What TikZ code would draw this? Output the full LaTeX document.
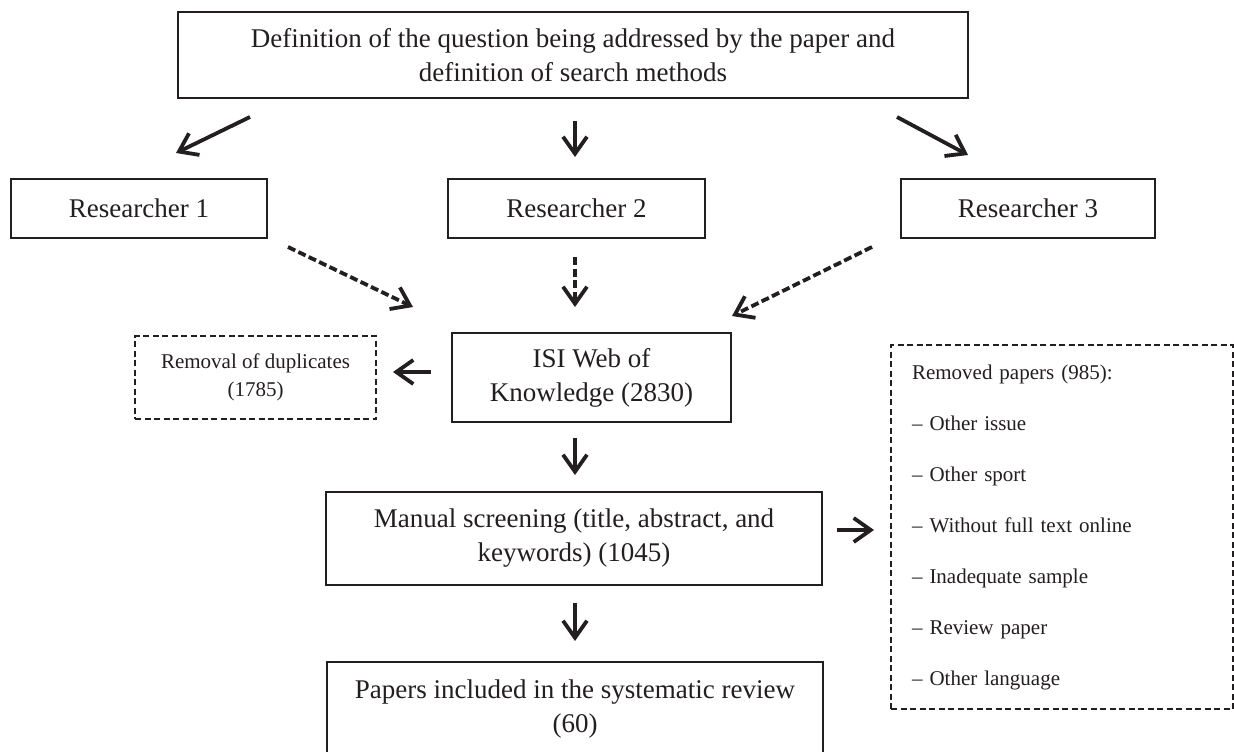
\documentclass[tikz,border=0pt]{standalone}
\usepackage{fontspec}
\setmainfont{Liberation Serif}
\usetikzlibrary{arrows.meta}
\definecolor{ink}{RGB}{35,31,32}
\begin{document}
\begin{tikzpicture}[x=1pt,y=-1pt,
  box/.style={draw=ink, line width=2.5pt, text=ink, align=center, inner sep=0pt,
              font=\fontsize{27}{34}\selectfont},
  dbox/.style={draw=ink, line width=2pt, dash pattern=on 6pt off 3.5pt, text=ink, inner sep=0pt},
  arr/.style={draw=ink, line width=3.8pt, -{Straight Barb[length=17pt,width=24pt]}},
  darr/.style={arr, dash pattern=on 8pt off 3.5pt},
]
\clip (0,0) rectangle (1234,752);
\fill[white] (0,0) rectangle (1234,752);

% boxes
\node[box, minimum width=790, minimum height=86] (def) at (573,55)
  {Definition of the question being addressed by the paper and\\definition of search methods};
\node[box, minimum width=256, minimum height=59] (r1) at (139,208.5) {Researcher 1};
\node[box, minimum width=257, minimum height=59] (r2) at (576.5,208.5) {Researcher 2};
\node[box, minimum width=254, minimum height=59] (r3) at (1028,208.5) {Researcher 3};
\node[box, minimum width=279, minimum height=89] (isi) at (591.5,377.5)
  {ISI Web of\\Knowledge (2830)};
\node[dbox, minimum width=241, minimum height=83, align=center,
      font=\fontsize{21}{28}\selectfont] (dup) at (255.5,377.5)
  {Removal of duplicates\\(1785)};
\node[box, minimum width=496, minimum height=93] (man) at (574,538.5)
  {Manual screening (title, abstract, and\\keywords) (1045)};
\node[box, minimum width=496, minimum height=93] (pap) at (575,708.5)
  {Papers included in the systematic review\\(60)};
\node[dbox, minimum width=342, minimum height=364, align=left, text width=300,
      font=\fontsize{21}{51}\selectfont] (rem) at (1062,527)
  {Removed papers (985):\\
   -- Other issue\\
   -- Other sport\\
   -- Without full text online\\
   -- Inadequate sample\\
   -- Review paper\\
   -- Other language};

% arrow end points
\coordinate (a1s) at (250,117); \coordinate (a1e) at (176,153);
\coordinate (a2s) at (575,121); \coordinate (a2e) at (575,157);
\coordinate (a3s) at (897,117); \coordinate (a3e) at (968,155);
\coordinate (d1s) at (288,247); \coordinate (d1e) at (413,307);
\coordinate (d2s) at (575,257); \coordinate (d2e) at (575,307);
\coordinate (d3s) at (872,247); \coordinate (d3e) at (732,316);
\coordinate (e1s) at (431,372); \coordinate (e1e) at (393,372);
\coordinate (e2s) at (575,438); \coordinate (e2e) at (575,475);
\coordinate (e3s) at (575,603); \coordinate (e3e) at (575,641);
\coordinate (e4s) at (837,530); \coordinate (e4e) at (874,530);

\draw[arr] (a1s) -- (a1e);
\draw[arr] (a2s) -- (a2e);
\draw[arr] (a3s) -- (a3e);
\draw[darr] (d1s) -- (d1e);
\draw[darr] (d2s) -- (d2e);
\draw[darr] (d3s) -- (d3e);
\draw[arr] (e1s) -- (e1e);
\draw[arr] (e2s) -- (e2e);
\draw[arr] (e3s) -- (e3e);
\draw[arr] (e4s) -- (e4e);
\end{tikzpicture}
\end{document}
